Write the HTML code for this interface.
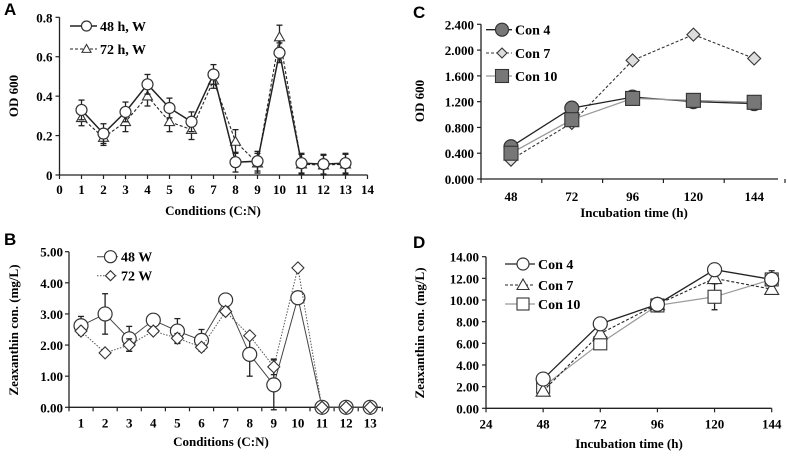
<!DOCTYPE html>
<html><head><meta charset="utf-8">
<style>
html,body{margin:0;padding:0;background:#fff;}
svg{display:block;font-family:"Liberation Serif",serif;font-weight:bold;}
.pl{font-family:"Liberation Sans",sans-serif;font-weight:bold;font-size:17px;}
</style></head>
<body>
<svg id="fig" width="787" height="456" viewBox="0 0 787 456" xmlns="http://www.w3.org/2000/svg"></svg>
<script>
// Panel A data
const aX = [1,2,3,4,5,6,7,8,9,10,11,12,13];
const a48 = [0.33,0.21,0.32,0.46,0.34,0.27,0.51,0.065,0.07,0.62,0.06,0.055,0.06];
const a48err = [0.05,0.05,0.05,0.05,0.05,0.05,0.05,0.05,0.05,0.05,0.05,0.05,0.05];
const a72 = [0.29,0.19,0.27,0.40,0.27,0.23,0.48,0.17,0.06,0.70,0.055,0.05,0.055];
const a72err = [0.04,0.04,0.05,0.05,0.05,0.05,0.04,0.06,0.05,0.06,0.05,0.05,0.05];
const aXTicks = [0,1,2,3,4,5,6,7,8,9,10,11,12,13,14];
const aYTicks = [0,0.2,0.4,0.6,0.8];
const aYLabels = ["0","0.2","0.4","0.6","0.8"];
// Panel B data
const bCats = ["1","2","3","4","5","6","7","8","9","10","11","12","13"];
const b48 = [2.62,3.0,2.2,2.8,2.45,2.15,3.45,1.7,0.72,3.52,0,0,0];
const b48err = [0.3,0.65,0.4,0,0.4,0.35,0,0.7,0.8,0,0,0,0];
const b72 = [2.45,1.75,2.0,2.45,2.22,1.93,3.08,2.3,1.3,4.48,0,0,0];
const b72err = [0,0,0.2,0,0.15,0,0,0,0.25,0,0,0,0];
const bYTicks = [0,1,2,3,4,5];
const bYLabels = ["0.00","1.00","2.00","3.00","4.00","5.00"];
// Panel C data
const cCats = ["48","72","96","120","144"];
const c4 = [0.5,1.1,1.27,1.2,1.17];
const c7 = [0.3,0.87,1.84,2.24,1.87];
const c10 = [0.4,0.92,1.25,1.22,1.19];
const cYTicks = [0,0.4,0.8,1.2,1.6,2.0,2.4];
const cYLabels = ["0.000","0.400","0.800","1.200","1.600","2.000","2.400"];
// Panel D data
const dX = [48,72,96,120,144];
const d4 = [2.7,7.8,9.6,12.8,11.9];
const d7 = [1.6,6.9,9.6,12.0,11.0];
const d10 = [2.0,6.0,9.5,10.3,11.9];
const d10err = [0,0,0.6,1.2,0.8];
const dXTicks = [24,48,72,96,120,144];
const dYTicks = [0,2,4,6,8,10,12,14];
const dYLabels = ["0.00","2.00","4.00","6.00","8.00","10.00","12.00","14.00"];

const NS="http://www.w3.org/2000/svg";
const fig=document.getElementById('fig');
function mk(tag,attrs,parent){const e=document.createElementNS(NS,tag);for(const k in attrs)e.setAttribute(k,attrs[k]);(parent||fig).appendChild(e);return e;}
function txt(s,x,y,size,anchor,parent){const t=mk('text',{x:x,y:y,'font-size':size,'text-anchor':anchor||'middle'},parent);t.textContent=s;return t;}
function marker(kind,x,y,r,fill,g){
  let e;
  if(kind==='circle'){e=mk('circle',{cx:x,cy:y,r:r,fill:fill,stroke:'#333','stroke-width':1.2},g);}
  else if(kind==='tri'){e=mk('polygon',{points:`${x},${y-r} ${x-r},${y+r*0.75} ${x+r},${y+r*0.75}`,fill:fill,stroke:'#333','stroke-width':1.1},g);}
  else if(kind==='diamond'){e=mk('polygon',{points:`${x},${y-r} ${x+r},${y} ${x},${y+r} ${x-r},${y}`,fill:fill,stroke:'#333','stroke-width':1.1},g);}
  else {e=mk('rect',{x:x-r,y:y-r,width:2*r,height:2*r,fill:fill,stroke:'#333','stroke-width':1.1},g);}
  return e;
}
function series(xs,ys,errs,xf,yf,opts,name){
  const g=mk('g',{});
  
  
  if(errs){for(let i=0;i<ys.length;i++){if(errs[i]>0){const x=xf(xs[i]);
    mk('line',{x1:x,x2:x,y1:yf(ys[i]-errs[i]),y2:yf(ys[i]+errs[i]),stroke:'#222','stroke-width':1.3},g);
    mk('line',{x1:x-3,x2:x+3,y1:yf(ys[i]+errs[i]),y2:yf(ys[i]+errs[i]),stroke:'#222','stroke-width':1.3},g);
    mk('line',{x1:x-3,x2:x+3,y1:yf(ys[i]-errs[i]),y2:yf(ys[i]-errs[i]),stroke:'#222','stroke-width':1.3},g);}}}
  const pts=ys.map((v,i)=>xf(xs[i])+','+yf(v)).join(' ');
  mk('polyline',{points:pts,fill:'none',stroke:opts.stroke,'stroke-width':opts.sw||1.3,'stroke-dasharray':opts.dash||'none'},g);
  for(let i=0;i<ys.length;i++){const m=marker(opts.kind,xf(xs[i]),yf(ys[i]),opts.r,opts.fill,g);
    
    }
}
function legend(x1,x2,y,label,opts,name){
  const g=mk('g',{});
  
  
  mk('line',{x1:x1,x2:x2,y1:y,y2:y,stroke:opts.stroke,'stroke-width':opts.sw||1.3,'stroke-dasharray':opts.dash||'none'},g);
  marker(opts.kind,(x1+x2)/2+3,y,opts.r,opts.fill,g);
  txt(label,x2+3,y+5,14,'start',g);
}
function axes(x0,x1,y0,y1,name){
  const g=mk('g',{});
  
  
  mk('line',{x1:x0,x2:x0,y1:y0,y2:y1,stroke:'#222','stroke-width':1.3},g);
  mk('line',{x1:x0,x2:x1,y1:y0,y2:y0,stroke:'#222','stroke-width':1.3},g);
  return g;
}

// ---- Panel A ----
(function(){
  const X0=59.5,XS=22.0,Y0=175,YT=17.3;
  const xf=v=>X0+v*XS, yf=v=>Y0-(v/0.8)*(Y0-YT);
  const g=axes(X0,xf(14),Y0,YT,'panel-a-axes');
  aYTicks.forEach((v,i)=>{mk('line',{x1:X0-4,x2:X0,y1:yf(v),y2:yf(v),stroke:'#222','stroke-width':1.2},g);txt(aYLabels[i],X0-7,yf(v)+5,13,'end',g);});
  aXTicks.forEach(v=>{mk('line',{x1:xf(v),x2:xf(v),y1:Y0,y2:Y0+4,stroke:'#222','stroke-width':1.2},g);txt(String(v),xf(v),Y0+19,13,'middle',g);});
  const xt=txt('Conditions (C:N)',213,215,13);
  const yt=txt('OD 600',0,0,13);yt.setAttribute('transform','translate(18,96) rotate(-90)');
  series(aX,a72,a72err,xf,yf,{kind:'tri',r:5,fill:'#fff',stroke:'#222',dash:'3,2',sw:1.1},'series-72h-w');
  series(aX,a48,a48err,xf,yf,{kind:'circle',r:5.5,fill:'#fff',stroke:'#222',sw:1.5},'series-48h-w');
  legend(70,97,26,'48 h, W',{kind:'circle',r:5,fill:'#fff',stroke:'#222',sw:1.5},'legend-48h-w');
  legend(70,97,49,'72 h, W',{kind:'tri',r:4.5,fill:'#fff',stroke:'#222',dash:'3,2',sw:1.1},'legend-72h-w');
  const pl=mk('text',{x:4,y:15,class:'pl'});pl.textContent='A';
})();

// ---- Panel B ----
(function(){
  const X0=69,XS=24.1,X1=81,Y0=407.3,YT=251.7;
  const xf=i=>X1+i*XS, yf=v=>Y0-(v/5)*(Y0-YT);
  const idx=bCats.map((c,i)=>i);
  const g=axes(X0,381,Y0,YT,'panel-b-axes');
  bYTicks.forEach((v,i)=>{mk('line',{x1:X0-4,x2:X0,y1:yf(v),y2:yf(v),stroke:'#222','stroke-width':1.2},g);txt(bYLabels[i],X0-6,yf(v)+5,13,'end',g);});
  for(let i=0;i<=bCats.length;i++){const x=X0+i*XS;mk('line',{x1:x,x2:x,y1:Y0,y2:Y0+4,stroke:'#222','stroke-width':1.2},g);}
  bCats.forEach((c,i)=>txt(c,xf(i),Y0+20,13,'middle',g));
  const xt=txt('Conditions (C:N)',221,446,13);
  const yt=txt('Zeaxanthin con. (mg/L)',0,0,13);yt.setAttribute('transform','translate(18,330) rotate(-90)');
  series(idx,b48,b48err,xf,yf,{kind:'circle',r:7,fill:'#fff',stroke:'#444',sw:1},'series-48w');
  series(idx,b72,b72err,xf,yf,{kind:'diamond',r:6,fill:'#fff',stroke:'#555',dash:'1.5,1.5',sw:1},'series-72w');
  legend(97,118,256.7,'48 W',{kind:'circle',r:6,fill:'#fff',stroke:'#444',sw:1},'legend-48w');
  legend(97,118,275.7,'72 W',{kind:'diamond',r:5,fill:'#fff',stroke:'#555',dash:'1.5,1.5',sw:1},'legend-72w');
  const pl=mk('text',{x:4,y:245,class:'pl'});pl.textContent='B';
})();

// ---- Panel C ----
(function(){
  const X0=481,XS=60.8,X1=511,Y0=179,YT=24.3;
  const xf=i=>X1+i*XS, yf=v=>Y0-(v/2.4)*(Y0-YT);
  const idx=cCats.map((c,i)=>i);
  const g=axes(X0,778,Y0,YT,'panel-c-axes');
  cYTicks.forEach((v,i)=>{mk('line',{x1:X0-4,x2:X0,y1:yf(v),y2:yf(v),stroke:'#222','stroke-width':1.2},g);txt(cYLabels[i],X0-7,yf(v)+5,13,'end',g);});
  for(let i=0;i<=cCats.length;i++){const x=X0+i*XS;mk('line',{x1:x,x2:x,y1:Y0,y2:Y0+4,stroke:'#222','stroke-width':1.2},g);}
  cCats.forEach((c,i)=>txt(c,xf(i),Y0+22,13,'middle',g));
  const xt=txt('Incubation time (h)',634,217,13);
  const yt=txt('OD 600',0,0,13);yt.setAttribute('transform','translate(424,101) rotate(-90)');
  series(idx,c7,null,xf,yf,{kind:'diamond',r:6.5,fill:'#ddd',stroke:'#333',dash:'3,2',sw:1.1},'series-con7-od');
  series(idx,c4,null,xf,yf,{kind:'circle',r:7,fill:'#777',stroke:'#222',sw:1.3},'series-con4-od');
  series(idx,c10,null,xf,yf,{kind:'square',r:7,fill:'#777',stroke:'#999',sw:1.3},'series-con10-od');
  legend(486,512,29.7,'Con 4',{kind:'circle',r:6.5,fill:'#777',stroke:'#222',sw:1.3},'legend-con4-od');
  legend(486,512,53,'Con 7',{kind:'diamond',r:5,fill:'#ddd',stroke:'#333',dash:'3,2',sw:1.1},'legend-con7-od');
  legend(486,512,76,'Con 10',{kind:'square',r:6.5,fill:'#777',stroke:'#999',sw:1.3},'legend-con10-od');
  const pl=mk('text',{x:413,y:18,class:'pl'});pl.textContent='C';
})();

// ---- Panel D ----
(function(){
  const X0=486,Y0=408.3,YT=256.7,XR=771.7;
  const xf=v=>X0+(v-24)/120*(XR-X0), yf=v=>Y0-(v/14)*(Y0-YT);
  const g=axes(X0,XR,Y0,YT,'panel-d-axes');
  dYTicks.forEach((v,i)=>{mk('line',{x1:X0-4,x2:X0,y1:yf(v),y2:yf(v),stroke:'#222','stroke-width':1.2},g);txt(dYLabels[i],X0-7,yf(v)+5,13,'end',g);});
  dXTicks.forEach(v=>{mk('line',{x1:xf(v),x2:xf(v),y1:Y0,y2:Y0+4,stroke:'#222','stroke-width':1.2},g);txt(String(v),xf(v),Y0+20,13,'middle',g);});
  const xt=txt('Incubation time (h)',629,448,13);
  const yt=txt('Zeaxanthin con. (mg/L)',0,0,13);yt.setAttribute('transform','translate(424,333) rotate(-90)');
  series(dX,d10,d10err,xf,yf,{kind:'square',r:6.5,fill:'#fff',stroke:'#999',sw:1.2},'series-con10-zea');
  series(dX,d7,null,xf,yf,{kind:'tri',r:7,fill:'#fff',stroke:'#222',dash:'3,2',sw:1.1},'series-con7-zea');
  series(dX,d4,null,xf,yf,{kind:'circle',r:7,fill:'#fff',stroke:'#222',sw:1.3},'series-con4-zea');
  legend(505,535,264,'Con 4',{kind:'circle',r:6,fill:'#fff',stroke:'#222',sw:1.3},'legend-con4-zea');
  legend(505,535,285,'Con 7',{kind:'tri',r:6,fill:'#fff',stroke:'#222',dash:'3,2',sw:1.1},'legend-con7-zea');
  legend(505,535,304,'Con 10',{kind:'square',r:6,fill:'#fff',stroke:'#999',sw:1.2},'legend-con10-zea');
  const pl=mk('text',{x:413,y:248,class:'pl'});pl.textContent='D';
})();
</script>
</body></html>
